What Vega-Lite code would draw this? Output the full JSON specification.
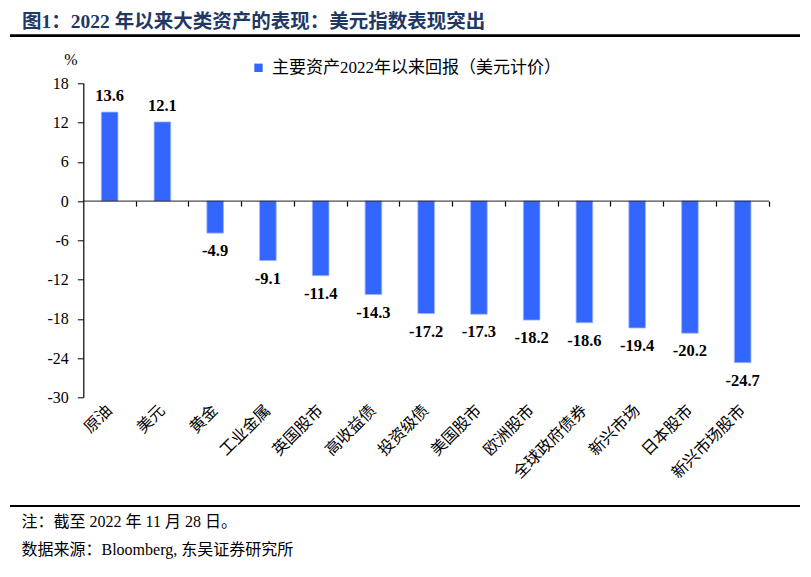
{
  "$schema": "https://vega.github.io/schema/vega-lite/v6.json",
  "width": 790,
  "height": 314,
  "autosize": "none",
  "padding": {"left": 10, "top": 83.3, "right": 11, "bottom": 179.7},
  "background": "white",
  "title": {
    "text": "图1：2022 年以来大类资产的表现：美元指数表现突出",
    "anchor": "start",
    "frame": "group",
    "dx": 12,
    "offset": 2,
    "font": "Liberation Serif, Noto Sans CJK SC",
    "fontSize": 19.5,
    "fontWeight": "bold",
    "color": "#1F3864"
  },
  "data": {
    "values": [
      {"asset": "原油", "value": 13.6},
      {"asset": "美元", "value": 12.1},
      {"asset": "黄金", "value": -4.9},
      {"asset": "工业金属", "value": -9.1},
      {"asset": "英国股市", "value": -11.4},
      {"asset": "高收益债", "value": -14.3},
      {"asset": "投资级债", "value": -17.2},
      {"asset": "美国股市", "value": -17.3},
      {"asset": "欧洲股市", "value": -18.2},
      {"asset": "全球政府债券", "value": -18.6},
      {"asset": "新兴市场", "value": -19.4},
      {"asset": "日本股市", "value": -20.2},
      {"asset": "新兴市场股市", "value": -24.7}
    ]
  },
  "layer": [
    {
      "data": {"values": [{"line": "title rule"}]},
      "mark": {"type": "rule", "color": "black", "strokeWidth": 2.7},
      "encoding": {
        "y": {"datum": 25.3, "type": "quantitative", "scale": {"domain": [-30, 18], "nice": false, "zero": false}, "axis": null}
      }
    },
    {
      "data": {"values": [{"line": "footer rule"}]},
      "mark": {"type": "rule", "color": "black", "strokeWidth": 2},
      "encoding": {
        "y": {"datum": -46.6, "type": "quantitative", "scale": {"domain": [-30, 18], "nice": false, "zero": false}, "axis": null}
      }
    },
    {
      "mark": {"type": "bar", "width": {"band": 0.315}, "stroke": "#9DB5FF", "strokeWidth": 0.8},
      "encoding": {
        "x": {
          "field": "asset",
          "type": "nominal",
          "sort": null,
          "scale": {"paddingInner": 0, "paddingOuter": 0.988, "align": 0.703},
          "axis": {
            "orient": "bottom",
            "domain": false,
            "ticks": false,
            "labelAngle": -45,
            "labelAlign": "right",
            "labelBaseline": "middle",
            "labelPadding": 10,
            "labelFont": "Liberation Serif, Noto Sans CJK SC",
            "labelFontSize": 16,
            "labelColor": "black",
            "labelOverlap": false,
            "title": ["注：截至 2022 年 11 月 28 日。", "数据来源：Bloomberg, 东吴证券研究所"],
            "titleFont": "Liberation Serif, Noto Sans CJK SC",
            "titleFontSize": 16,
            "titleFontWeight": "normal",
            "titleColor": "black",
            "titleAlign": "left",
            "titleBaseline": "top",
            "titleAngle": 0,
            "titleX": 11,
            "titleY": 116,
            "titleLineHeight": 28
          }
        },
        "y": {
          "field": "value",
          "type": "quantitative",
          "scale": {"domain": [-30, 18], "nice": false, "zero": false},
          "axis": {
            "offset": -73.3,
            "values": [-30, -24, -18, -12, -6, 0, 6, 12, 18],
            "labelExpr": "replace(datum.label, '\u2212', '-')",
            "labelOverlap": false,
            "grid": false,
            "domainColor": "black",
            "domainWidth": 1.2,
            "tickColor": "black",
            "tickSize": 6,
            "labelPadding": 9,
            "labelFont": "Liberation Serif",
            "labelFontSize": 16,
            "labelColor": "black",
            "title": "%",
            "titleAngle": 0,
            "titleAlign": "center",
            "titleBaseline": "middle",
            "titleX": -13,
            "titleY": -24,
            "titleFont": "Liberation Serif",
            "titleFontSize": 16,
            "titleFontWeight": "normal",
            "titleColor": "black"
          }
        },
        "color": {
          "datum": "主要资产2022年以来回报（美元计价）",
          "type": "nominal",
          "scale": {"range": ["#3366FF"]},
          "legend": {
            "orient": "none",
            "legendX": 240,
            "legendY": -24,
            "title": null,
            "symbolType": "square",
            "symbolSize": 70,
            "symbolStrokeWidth": 0,
            "labelFont": "Liberation Serif, Noto Sans CJK SC",
            "labelFontSize": 17,
            "labelColor": "black",
            "labelOffset": 5,
            "labelLimit": 0,
            "padding": 0
          }
        }
      }
    },
    {
      "mark": {"type": "tick", "orient": "horizontal", "size": 53, "thickness": 1.3, "color": "black"},
      "encoding": {
        "x": {
          "field": "asset",
          "type": "nominal",
          "sort": null,
          "axis": {
            "orient": "bottom",
            "offset": -196.2,
            "domain": false,
            "labels": false,
            "ticks": true,
            "tickSize": 5,
            "tickColor": "black",
            "tickWidth": 1.2,
            "bandPosition": 1,
            "title": null
          }
        },
        "y": {"datum": 0, "type": "quantitative", "axis": null}
      }
    },
    {
      "transform": [{"filter": "datum.value >= 0"}],
      "mark": {"type": "text", "baseline": "bottom", "dy": -8, "font": "Liberation Serif", "fontSize": 16.5, "fontWeight": "bold", "color": "black"},
      "encoding": {
        "x": {"field": "asset", "type": "nominal", "sort": null, "axis": null},
        "y": {"field": "value", "type": "quantitative", "axis": null},
        "text": {"field": "value", "type": "nominal"}
      }
    },
    {
      "transform": [{"filter": "datum.value < 0"}],
      "mark": {"type": "text", "baseline": "top", "dy": 10, "font": "Liberation Serif", "fontSize": 16.5, "fontWeight": "bold", "color": "black"},
      "encoding": {
        "x": {"field": "asset", "type": "nominal", "sort": null, "axis": null},
        "y": {"field": "value", "type": "quantitative", "axis": null},
        "text": {"field": "value", "type": "nominal"}
      }
    }
  ],
  "resolve": {"axis": {"x": "independent", "y": "independent"}},
  "config": {
    "view": {"stroke": null}
  }
}
